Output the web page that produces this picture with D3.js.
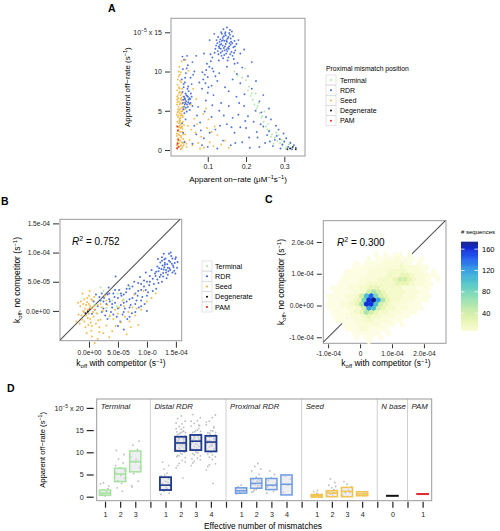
<!DOCTYPE html>
<html><head><meta charset="utf-8">
<script src="https://cdn.jsdelivr.net/npm/d3@7/dist/d3.min.js"></script>
<style>
body{margin:0;background:#fff;}
svg{font-family:"Liberation Sans",Arial,Helvetica,sans-serif;}
</style></head>
<body><svg id="fig" width="500" height="531"></svg>
<script>
// ================= DATA =================
const categories = ["Terminal","RDR","Seed","Degenerate","PAM"];
const categoryColors = ["#a9e3a1","#3a62d6","#f3b43a","#111111","#e3262b"];

// Panel A: x = apparent on-rate (uM^-1 s^-1), y = apparent off-rate (1e-5 s^-1); flat x,y pairs
const aTerminal = [0.170,10.0,0.178,9.5,0.190,9.2,0.200,8.9,0.205,7.6,0.212,6.9,0.218,6.4,0.222,5.8,0.228,5.3,0.236,4.7,0.240,4.1,0.246,3.6,0.252,3.0,0.262,2.5,0.268,2.0,0.275,1.6,0.282,1.2,0.289,0.9,0.295,0.6,0.300,1.0,0.307,0.4,0.312,0.7,0.318,0.3,0.225,7.2,0.233,6.0,0.248,4.9,0.256,2.6,0.272,0.8,0.285,1.9,0.198,10.4,
 0.208,8.1,0.215,7.2,0.230,5.6,0.243,4.3,0.258,3.3,0.265,1.7,0.279,2.2,0.293,1.3,0.303,0.2,0.314,1.0];
const aSeed = [0.020,0.3,0.022,0.8,0.025,1.2,0.028,0.5,0.031,1.6,0.019,2.1,0.024,2.6,0.027,3.1,0.033,2.3,0.021,3.6,0.026,4.0,0.030,4.4,0.023,4.9,0.029,5.3,0.034,5.0,0.020,5.8,0.025,6.2,0.031,6.6,0.022,7.0,0.027,7.4,0.033,7.8,0.021,8.3,0.028,8.8,0.024,9.4,0.030,9.9,0.026,10.6,0.032,11.3,0.023,1.5,0.029,2.8,0.035,3.6,0.019,4.5,0.024,5.5,0.028,6.0,0.032,0.2,0.035,0.9,0.021,1.0,0.026,1.9,0.030,3.3,0.022,4.2,0.027,4.7,0.033,5.9,0.020,6.8,0.025,7.3,0.029,0.1,0.023,0.5,0.036,1.4,0.034,2.7,0.028,3.8,0.031,4.9,0.024,3.4,0.019,1.8,0.026,5.1,0.032,6.3,0.022,2.4,0.029,7.0,0.035,4.2,0.037,0.6,0.040,1.1,0.021,6.1,0.025,8.0,0.031,8.6,
 0.019,0.6,0.021,1.4,0.023,2.0,0.025,2.9,0.027,3.5,0.029,4.1,0.031,4.6,0.033,5.4,0.020,6.4,0.022,5.2,0.024,4.4,0.026,3.7,0.028,2.3,0.030,1.8,0.032,1.0,0.034,0.4,0.036,2.0,0.019,3.0,0.021,4.8,0.023,6.6,0.025,0.9,0.027,5.8,0.029,6.5,0.031,7.2,0.033,3.0,0.035,5.5,0.020,7.6,0.022,9.0,0.024,10.0,0.026,7.8,0.028,1.2,0.030,0.6,0.032,2.9,0.034,4.4,0.036,6.8,0.038,3.2,0.041,2.0,0.044,0.8,0.039,6.1,0.027,9.6,
 0.045,0.4,0.052,1.3,0.060,0.6,0.068,2.2,0.075,0.9,0.083,1.7,0.090,0.3,0.098,2.8,0.105,1.0,0.115,0.5,0.125,1.9,0.135,0.7,0.048,3.1,0.057,2.6,0.065,4.0,0.072,3.3,0.088,4.6,0.102,3.9,0.118,3.0,0.145,1.2,0.155,0.3,0.040,5.2,0.055,5.8,0.070,6.5,0.050,10.1,0.042,11.5,0.062,7.8,0.095,5.3,0.080,0.2,0.110,2.3];
const aRDR = [0.130,13.0,0.135,13.5,0.140,14.0,0.145,13.2,0.150,13.8,0.155,12.9,0.160,13.4,0.138,12.6,0.142,14.5,0.148,12.3,0.152,14.2,0.158,14.7,0.133,14.1,0.128,12.2,0.162,12.5,0.167,13.1,0.170,13.9,0.125,13.6,0.120,12.9,0.146,15.0,0.141,15.4,0.136,12.0,0.154,11.8,0.157,13.6,0.144,13.9,0.139,13.3,0.149,12.8,0.153,13.0,0.131,13.8,0.127,14.4,0.160,14.2,0.165,12.0,0.172,12.7,0.175,13.5,0.147,14.6,0.143,12.1,0.137,14.8,0.118,12.4,0.122,13.3,0.134,12.4,0.156,14.9,0.150,15.6,0.163,15.1,0.168,11.6,0.129,11.4,0.180,14.0,0.185,12.3,0.178,11.1,0.195,12.8,0.112,11.8,
 0.132,13.4,0.137,13.9,0.142,13.0,0.147,13.5,0.151,12.6,0.156,13.2,0.161,13.8,0.139,14.3,0.144,12.7,0.149,14.0,0.154,14.4,0.159,12.2,0.134,12.9,0.129,13.2,0.164,13.6,0.169,12.4,0.126,12.6,0.145,14.8,0.140,11.7,0.158,15.3,0.135,15.0,0.152,11.4,0.166,14.5,0.123,14.0,0.171,13.2,
 0.088,9.0,0.092,9.6,0.096,10.2,0.100,9.3,0.104,10.6,0.098,11.0,0.108,11.3,0.112,10.4,0.094,8.5,0.086,9.9,0.102,8.0,0.115,10.0,0.085,7.8,0.078,8.6,0.107,12.2,0.090,12.3,0.100,7.3,0.120,9.4,0.117,14.8,0.105,14.0,
 0.036,5.2,0.040,5.8,0.044,6.2,0.048,5.5,0.052,6.6,0.038,6.8,0.042,7.2,0.046,6.9,0.050,7.5,0.055,6.0,0.039,4.7,0.045,4.9,0.053,5.1,0.058,6.8,0.041,6.4,0.047,7.8,0.035,6.0,0.049,6.1,0.043,5.4,0.056,7.2,0.060,5.6,0.037,8.0,
 0.038,5.5,0.042,6.0,0.046,5.8,0.050,6.4,0.044,7.0,0.040,6.6,0.048,6.8,0.052,5.9,0.036,6.4,0.054,6.5,
 0.032,9.0,0.035,10.3,0.038,11.5,0.040,8.6,0.043,9.8,0.046,12.0,0.034,11.9,0.048,10.8,0.055,9.2,0.060,11.2,0.065,10.0,0.070,12.0,0.033,3.4,0.036,2.2,0.039,1.0,0.042,3.9,
 0.034,7.4,0.037,8.4,0.041,9.2,0.045,10.4,0.049,8.1,0.058,8.4,0.062,9.6,
 0.060,0.8,0.070,2.0,0.080,3.5,0.090,1.5,0.100,0.4,0.110,4.2,0.120,2.6,0.130,5.0,0.140,1.2,0.150,3.3,0.160,0.6,0.170,2.2,0.180,4.5,0.190,1.0,0.200,2.8,0.210,0.3,0.220,3.6,0.230,1.6,0.240,4.8,0.250,0.9,0.260,2.4,0.270,0.5,0.280,1.8,0.290,0.2,0.300,1.1,0.310,0.4,0.320,0.1,0.330,0.3,0.075,5.5,0.095,6.3,0.115,7.0,0.135,6.0,0.155,7.5,0.175,6.8,0.195,5.6,0.215,7.8,0.235,6.2,0.205,9.4,0.185,8.5,0.165,9.0,0.145,8.0,0.125,8.8,0.225,5.0,0.245,3.0,0.265,3.9,0.285,2.6,0.255,1.9,0.275,1.3,0.215,11.2,0.190,10.5,0.165,4.1,0.105,2.2,0.085,0.6,0.065,3.1,0.125,0.2,0.295,0.7,0.305,1.5,0.235,0.4,0.185,2.9,0.155,5.6,0.245,7.0,0.260,5.3,0.205,4.3,
 0.072,4.4,0.082,2.5,0.092,4.9,0.112,5.7,0.132,3.1,0.142,4.4,0.162,2.9,0.172,0.9,0.182,6.0,0.198,3.7,0.208,1.6,0.228,2.3,0.238,3.3,0.252,4.2,0.262,1.1,0.278,3.1,0.288,1.4,0.298,2.1,0.316,0.9,0.325,0.6,0.110,8.2,0.130,9.8,0.150,10.6,0.170,11.0,0.176,9.7,0.226,8.8,0.196,7.1];
const aDegenerate = [0.315,0.2,0.322,0.4,0.308,0.1,0.330,0.1];
const aPAM = [0.020,0.2,0.021,0.8,0.022,2.5,0.023,1.3,0.024,0.4,0.021,3.0];
const aXTicks = [0.1,0.2,0.3];
const aYTicks = [0,5,10,15];

// Panel B: x = koff with competitor, y = koff no competitor (1e-5 s^-1)
const bTerminal = [1.0,1.0,2.0,2.0,3.0,0.5,4.0,1.8,5.0,3.0,6.0,2.0,1.5,-0.5,2.5,3.4,3.5,-1.0,4.8,0.8,0.2,0.6,7.0,4.2,2.0,4.0];
const bRDR = [13.0,7.5,13.5,8.0,14.0,7.0,12.5,7.2,13.8,8.6,14.5,7.8,12.8,6.5,13.2,9.0,14.2,9.4,12.0,6.8,11.8,7.6,14.8,8.2,13.6,6.2,12.3,8.3,13.9,7.3,14.4,6.6,13.1,8.2,12.7,7.8,15.0,9.2,14.7,6.9,11.5,6.0,12.2,5.8,13.4,5.6,15.2,7.4,12.9,9.8,14.1,10.0,11.9,8.9,13.7,6.8,14.9,8.9,12.4,6.2,13.3,7.0,12.6,9.2,
 13.1,7.9,13.6,7.4,14.3,8.1,12.9,7.1,14.0,8.4,13.3,6.6,12.6,8.6,14.6,7.5,13.8,9.8,12.1,7.3,14.4,9.0,13.0,8.8,15.3,8.4,11.6,6.7,12.8,5.9,14.9,6.4,
 10.5,6.0,10.0,5.0,9.5,4.2,11.0,5.5,11.2,4.6,9.0,3.6,8.5,4.8,8.0,3.0,7.5,2.2,7.0,3.8,6.5,1.6,6.0,2.8,5.5,1.0,5.0,2.2,4.5,1.4,4.0,0.6,3.5,2.0,3.0,1.2,2.5,0.4,2.0,1.8,1.5,0.8,1.0,0.2,6.2,0.4,7.2,1.0,8.2,1.8,9.2,2.4,10.2,3.2,5.2,3.6,4.2,3.0,3.2,2.8,6.8,4.4,7.8,5.0,8.8,5.8,9.8,6.6,10.8,7.0,5.8,-0.6,6.6,-1.4,7.4,-0.4,4.8,-1.0,3.8,-0.2,2.8,-0.8,8.6,0.6,9.6,1.2,11.6,3.8,12.0,4.8,4.6,5.9,2.2,3.0,1.8,2.4,0.8,1.6,7.0,2.0,5.6,2.6,6.4,3.2,4.4,2.4,3.6,1.6,8.4,2.6,9.0,4.6,10.4,4.4,11.4,6.4,5.0,-2.6,6.0,-3.2,0.5,-0.5,1.2,2.8,2.6,2.2,3.4,4.0,
 3.0,0.0,4.0,1.2,5.0,0.4,6.0,1.4,7.0,0.6,8.0,1.2,9.0,1.8,10.0,2.6,11.0,3.4,5.5,3.0,6.5,3.8,7.5,4.2,8.5,3.4,9.5,5.2,10.5,5.0,4.5,3.6,3.5,3.0,2.5,1.6,6.0,-0.2,7.0,-1.0,8.0,-0.2,9.0,0.8,10.0,0.0,5.4,-1.8,4.2,-0.6,3.2,-1.4,2.2,-0.2,11.8,5.4,12.6,5.0,9.8,3.6];
const bSeed = [-1.0,0.0,-0.5,1.0,0.0,-0.5,0.5,0.5,-1.2,-1.5,-0.8,2.0,0.3,-2.0,-0.3,1.5,0.8,-1.0,-1.5,0.8,0.0,2.6,-0.6,-2.8,0.6,1.8,-1.8,-0.6,1.0,0.2,-0.2,-1.2,0.4,-3.4,-1.1,3.0,0.2,0.9,-0.9,-0.2,1.2,-2.2,-1.4,1.6,0.7,-0.2,-0.4,-3.8,0.1,3.4,-0.7,0.4,1.5,1.0,-1.6,-2.2,0.9,2.4,-0.1,-2.4,
 -0.5,-0.8,0.2,-1.4,-1.0,1.2,0.8,0.8,-0.3,2.2,0.5,-2.6,-1.3,-0.8,1.3,-0.4,0.0,1.2,-0.8,-1.8,0.4,2.0,-0.2,0.2,1.6,-1.6,2.4,0.0,3.6,-0.8,4.6,-2.6,5.2,0.6,6.2,-1.0,7.2,-2.8,8.2,0.4,3.0,1.8,2.0,1.2,-1.9,1.4,-2.2,-1.8,1.8,-3.6,
 2.0,-1.5,3.0,-2.5,4.0,-3.5,5.0,-0.5,6.0,0.8,7.0,-1.8,8.0,-0.8,9.0,0.2,10.0,1.6,3.5,-4.5,2.5,-3.8,1.5,-4.8,4.5,0.2,5.5,-2.0,6.5,-4.0,7.5,0.6,8.5,-2.4,3.2,1.0,2.2,0.6,1.8,-2.8,5.8,1.8,7.8,2.8,9.4,3.4,10.8,2.2,11.5,3.0,2.8,2.6,4.2,-1.4,6.8,-0.2,1.0,-5.5,0.5,-4.4];
const bDegenerate = [-0.6,-0.4,-0.2,-0.1];
const bPAM = [0.1,0.3];
const bTicks = [0,5,10,15];
const bXTickLabels = ["0.0e+00","5.0e-05","1.0e-0","1.5e-04"];
const bYTickLabels = ["0.0e+00","5.0e-05","1.0e-04","1.5e-04"];
const bR2 = "0.752";

// Panel C: hexbin counts (1e-4 s^-1 units); rows top->bottom, '.' empty, chars = count level
const cR2 = "0.300";
const cTicks = [-1,0,1,2];
const cXTickLabels = ["-1.0e-04","0","1.0e-04","2.0e-04"];
const cYTickLabels = ["-1.0e-04","0.0e+00","1.0e-04","2.0e-04"];
const cHexX0 = -1.0, cHexDX = 0.15, cHexY0 = 1.60, cHexDY = 0.13;
const cHexRows = [
 "..........1.1.11.1......",
 "........1.11112111.1....",
 "......1.1111222211.1....",
 ".....1111122222322211...",
 "....11111222233332221 1.",
 "...11111222233344322211.",
 "...1111222233345543221.1",
 "..11112233333344432211..",
 ".111122334433333222111..",
 ".11112235654333322211...",
 "111122358A754333222111..",
 "11112347BC96433222111...",
 "11122346BB8543222111....",
 "11112235985433222111....",
 ".111123465433222111.....",
 ".1111223433222111.......",
 "..11112233222111........",
 "...11122222111.1........",
 "....111221111...........",
 ".....111111.1...........",
 "......1.11.1............",
 "........1..............."
];
const cLevelCounts = {"1":3,"2":7,"3":13,"4":24,"5":40,"6":58,"7":80,"8":100,"9":120,"A":140,"B":158,"C":172};
const cBarTicks = [40,80,120,160];

// Panel D: off-rate (1e-5 s^-1) by facet and number of mismatches
const dFacets = ["Terminal","Distal RDR","Proximal RDR","Seed","N base","PAM"];
const dFacetColors = ["#a3e39c","#1f3b8e","#6d9de2","#f2c44e","#111111","#e02a2a"];
const dLevels = [["1","2","3"],["1","2","3","4"],["1","2","3","4"],["1","2","3","4"],["0"],["1"]];
const dQ1 = [[0.3,3.4,5.6],[1.5,10.3,10.5,10.2],[0.8,1.9,1.6,0.4],[-0.1,0.0,0.0,0.2],[0.2],[0.6]];
const dMedian = [[0.8,5.1,7.9],[2.6,12.1,12.5,12.3],[1.35,3.0,2.6,2.8],[0.2,0.8,1.2,0.6],[0.2],[0.6]];
const dQ3 = [[1.5,6.4,10.3],[4.4,13.5,13.9,13.7],[2.0,4.1,4.1,4.9],[0.5,1.35,2.1,1.1],[0.2],[0.6]];
// jittered points: flat [offset, value] pairs
const dPoints = [
 [[-0.2,0.5,0.1,1.2,0.25,2.4,-0.3,2.9,0.0,0.2,0.2,1.8,-0.1,3.1,0.3,0.7],
  [-0.2,2.0,0.1,3.0,0.3,4.2,-0.3,5.5,0.0,6.5,0.2,7.6,-0.1,8.5,0.25,9.5,-0.25,10.4,0.05,4.8,-0.15,3.6,0.3,5.9,0.15,1.2,-0.3,7.0],
  [-0.2,2.2,0.2,3.5,-0.1,5.2,0.3,6.6,0.0,7.8,-0.3,9.0,0.15,10.6,-0.15,11.6,0.25,12.5,0.05,8.4,-0.25,2.5]],
 [[-0.3,0.5,-0.1,1.2,0.1,1.8,0.3,2.4,-0.2,3.0,0.0,3.5,0.2,4.0,-0.3,4.6,0.1,5.3,-0.1,6.2,0.2,7.0,-0.2,7.8,0.3,2.8,0.05,2.1,-0.15,1.4,0.15,3.2,0.25,0.8,-0.05,4.9],
  [-0.3,6.5,-0.1,7.5,0.1,8.2,0.3,8.8,-0.2,9.3,0.0,9.8,0.2,10.2,-0.3,10.6,-0.1,11.0,0.1,11.3,0.3,11.6,-0.2,11.9,0.0,12.2,0.2,12.5,-0.3,12.8,-0.1,13.1,0.1,13.4,0.3,13.7,-0.2,14.0,0.0,14.4,0.2,14.8,-0.3,15.3,-0.1,15.8,0.1,16.4,0.3,17.0,-0.2,17.6,0.05,18.2,-0.25,9.0,0.25,10.0,-0.05,10.8,0.15,11.8,-0.15,12.6,0.25,13.2,-0.25,14.6,0.05,15.2,0.15,4.2,
   -0.32,11.4,-0.22,12.4,-0.12,12.9,-0.02,11.6,0.08,12.0,0.18,13.0,0.28,12.3,-0.28,13.6,-0.18,10.4,-0.08,14.2,0.02,13.6,0.12,14.6,0.22,11.0,0.32,14.4,-0.3,16.6,0.1,9.6,-0.1,9.2,0.2,15.6,-0.2,7.0,0.3,7.8],
  [-0.3,7.0,-0.1,8.0,0.1,8.7,0.3,9.2,-0.2,9.7,0.0,10.1,0.2,10.5,-0.3,10.9,-0.1,11.3,0.1,11.7,0.3,12.0,-0.2,12.3,0.0,12.6,0.2,12.9,-0.3,13.2,-0.1,13.5,0.1,13.8,0.3,14.1,-0.2,14.5,0.0,14.9,0.2,15.4,-0.3,15.9,-0.1,16.5,0.1,17.1,0.3,17.8,-0.2,18.5,0.05,11.0,-0.25,12.1,0.25,12.7,-0.05,13.3,0.15,10.0,-0.15,14.0,0.25,16.0,-0.25,8.5,
   -0.32,11.8,-0.22,12.8,-0.12,13.0,-0.02,11.9,0.08,12.4,0.18,13.4,0.28,12.6,-0.28,14.0,-0.18,10.7,-0.08,14.6,0.02,13.9,0.12,15.0,0.22,11.3,0.32,14.7,-0.3,17.0,0.1,9.9,-0.1,9.4,0.2,16.1,-0.2,7.6,0.3,8.3],
  [-0.3,6.0,-0.1,7.2,0.1,8.4,0.3,9.0,-0.2,9.6,0.0,10.0,0.2,10.4,-0.3,10.8,-0.1,11.2,0.1,11.6,0.3,11.9,-0.2,12.2,0.0,12.5,0.2,12.8,-0.3,13.1,-0.1,13.4,0.1,13.7,0.3,14.0,-0.2,14.4,0.0,14.9,0.2,15.5,-0.3,16.2,-0.1,17.0,0.1,17.8,0.3,18.4,0.05,11.4,-0.25,12.0,0.25,13.0,-0.05,13.9,0.15,3.0,
   -0.32,11.5,-0.22,12.6,-0.12,12.7,-0.02,11.7,0.08,12.1,0.18,13.2,0.28,12.4,-0.28,13.8,-0.18,10.2,-0.08,14.3,0.02,13.5,0.12,14.8,0.22,10.9,0.32,14.5,-0.3,16.8,0.1,9.4,-0.1,8.9,0.2,15.8,-0.2,6.8,0.3,7.4]],
 [[-0.3,0.6,-0.1,1.0,0.1,1.4,0.3,1.8,-0.2,2.2,0.0,2.6,0.2,1.2,-0.05,0.8,0.15,2.0],
  [-0.3,1.0,-0.1,1.8,0.1,2.5,0.3,3.2,-0.2,3.8,0.0,4.4,0.2,5.0,-0.3,5.8,-0.1,6.8,0.1,7.5,0.25,2.0,-0.25,2.9,0.05,3.5,0.15,4.1,-0.15,1.4,0.3,6.2,-0.2,1.2,0.1,2.2,0.2,3.6,-0.1,2.7,0.0,1.6,0.3,2.5],
  [-0.3,0.8,-0.1,1.6,0.1,2.4,0.3,3.0,-0.2,3.6,0.0,4.3,0.2,5.0,-0.1,5.8,0.15,1.2,-0.25,2.2],
  [-0.2,1.0,0.1,2.6,0.25,4.0,-0.1,4.6]],
 [[-0.3,0.1,-0.1,0.3,0.1,0.5,0.3,0.2,0.0,0.8,-0.2,1.1,0.2,0.4,0.05,1.4],
  [-0.3,0.2,-0.1,0.6,0.1,1.0,0.3,1.4,0.0,2.0,-0.2,2.6,0.2,3.2,-0.1,4.0,0.15,1.6,-0.25,1.2,0.05,0.4,0.25,2.3],
  [-0.3,0.3,-0.1,0.9,0.1,1.5,0.3,2.2,0.0,2.8,-0.2,3.4,0.2,1.0],
  [-0.2,0.4,0.1,0.9,0.25,0.6]],
 [[0,0.2]],
 [[0,0.6]]
];
const dYTicks = [0,5,10,15,20];

// ================= DRAWING =================
const svg = d3.select("#fig");
const pairs = a => { const r = []; for (let i = 0; i < a.length; i += 2) r.push([a[i], a[i+1]]); return r; };
const TICKFS = 7;

function styleAxis(g, fs) {
  g.select(".domain").remove();
  g.selectAll(".tick line").attr("stroke", "#333");
  g.selectAll(".tick text").attr("font-size", fs || TICKFS).attr("fill", "#222");
  g.attr("font-family", null).attr("font-size", null);
}
function rich(t, parts, fs) {
  let shift = 0;
  parts.forEach(p => {
    const target = p.sup ? -fs * 0.38 : (p.sub ? fs * 0.25 : 0);
    const ts = t.append("tspan").attr("dy", target - shift).text(p.t);
    if (p.sup || p.sub) ts.attr("font-size", fs * 0.7);
    if (p.it) ts.attr("font-style", "italic");
    shift = target;
  });
}
function expTick(g, value, rest) {
  g.selectAll(".tick text").filter(d => d === value).each(function() {
    const t = d3.select(this); t.text(null);
    t.append("tspan").text("10");
    t.append("tspan").attr("font-size", 5).attr("dy", -3).text("−5");
    t.append("tspan").attr("dy", 3).text(" x " + rest);
  });
}
function frame(x0, y0, x1, y1) {
  svg.append("rect").attr("x", x0).attr("y", y0).attr("width", x1 - x0).attr("height", y1 - y0)
    .attr("fill", "none").attr("stroke", "#9a9a9a").attr("stroke-width", 1);
}
function panelLabel(t, x, y) {
  svg.append("text").attr("x", x).attr("y", y).attr("font-size", 10.5).attr("font-weight", "bold").text(t);
}

// ---------- Panel A ----------
{
  const L = 171, R = 305, T = 18.3, B = 156;
  const x = d3.scaleLinear([0.004, 0.354], [L, R]);
  const y = d3.scaleLinear([-0.76, 16.78], [B, T]);
  panelLabel("A", 108, 12);
  frame(L, T, R, B);
  const sets = [aTerminal, aRDR, aSeed, aDegenerate, aPAM];
  const order = [0, 2, 1, 3, 4];
  order.forEach(k => {
    svg.append("g").selectAll("circle").data(pairs(sets[k])).join("circle")
      .attr("cx", d => x(d[0])).attr("cy", d => y(d[1])).attr("r", 0.95)
      .attr("fill", categoryColors[k]).attr("fill-opacity", 0.9);
  });
  const gy = svg.append("g").attr("transform", `translate(${L - 1},0)`)
    .call(d3.axisLeft(y).tickValues(aYTicks).tickSize(5).tickPadding(3).tickFormat(d => d));
  styleAxis(gy); expTick(gy, 15, "15");
  const gx = svg.append("g").attr("transform", `translate(0,${B + 1})`)
    .call(d3.axisBottom(x).tickValues(aXTicks).tickSize(5).tickPadding(2).tickFormat(d3.format(".1f")));
  styleAxis(gx);
  const xt = svg.append("text").attr("x", (L + R) / 2).attr("y", 182).attr("text-anchor", "middle").attr("font-size", 8);
  rich(xt, [{t:"Apparent on−rate ("},{t:"μ"},{t:"M"},{t:"−1",sup:true},{t:"s"},{t:"−1",sup:true},{t:")"}], 8);
  const yt = svg.append("text").attr("transform", `translate(130,${(T + B) / 2}) rotate(-90)`).attr("text-anchor", "middle").attr("font-size", 8);
  rich(yt, [{t:"Apparent off−rate (s"},{t:"−1",sup:true},{t:")"}], 8);
  // legend
  const lg = svg.append("g").attr("transform", "translate(326,69)");
  lg.append("text").attr("x", 0).attr("y", 2).attr("font-size", 6.8).text("Proximal mismatch position");
  categories.forEach((c, i) => {
    const yy = 11 + i * 10.2;
    lg.append("rect").attr("x", 0).attr("y", yy - 5).attr("width", 10).attr("height", 10).attr("fill", "#fff").attr("stroke", "#d0d0d0").attr("stroke-width", 0.6);
    lg.append("circle").attr("cx", 5).attr("cy", yy).attr("r", 1).attr("fill", categoryColors[i]);
    lg.append("text").attr("x", 14).attr("y", yy + 2.5).attr("font-size", 7).text(c);
  });
}

// ---------- Panel B ----------
{
  const L = 60, R = 181.7, T = 219.3, B = 340.7;
  const x = d3.scaleLinear([-5, 16], [L, R]);
  const y = d3.scaleLinear([-5.1, 15.7], [B, T]);
  panelLabel("B", 1, 205);
  frame(L, T, R, B);
  const lo = -5, hi = 15.7;
  svg.append("line").attr("x1", x(lo)).attr("y1", y(lo)).attr("x2", x(hi)).attr("y2", y(hi))
    .attr("stroke", "#555").attr("stroke-width", 1.1);
  const sets = [bTerminal, bRDR, bSeed, bDegenerate, bPAM];
  [0, 1, 2, 3, 4].forEach(k => {
    svg.append("g").selectAll("circle").data(pairs(sets[k])).join("circle")
      .attr("cx", d => x(d[0])).attr("cy", d => y(d[1])).attr("r", 1)
      .attr("fill", categoryColors[k]).attr("fill-opacity", 0.9);
  });
  const gy = svg.append("g").attr("transform", `translate(${L - 1},0)`)
    .call(d3.axisLeft(y).tickValues(bTicks).tickSize(6).tickPadding(3).tickFormat((d, i) => bYTickLabels[i]));
  styleAxis(gy, 6.6);
  const gx = svg.append("g").attr("transform", `translate(0,${B + 1})`)
    .call(d3.axisBottom(x).tickValues(bTicks).tickSize(6).tickPadding(3).tickFormat((d, i) => bXTickLabels[i]));
  styleAxis(gx, 6.6);
  const r2 = svg.append("text").attr("x", 72).attr("y", 245).attr("font-size", 10);
  rich(r2, [{t:"R",it:true},{t:"2",sup:true},{t:" = " + bR2}], 10);
  const xt = svg.append("text").attr("x", 121).attr("y", 366).attr("text-anchor", "middle").attr("font-size", 8.5);
  rich(xt, [{t:"k"},{t:"off",sub:true},{t:" with competitor  (s"},{t:"−1",sup:true},{t:")"}], 8.5);
  const yt = svg.append("text").attr("transform", `translate(20,${(T + B) / 2}) rotate(-90)`).attr("text-anchor", "middle").attr("font-size", 8.5);
  rich(yt, [{t:"k"},{t:"off",sub:true},{t:", no competitor  (s"},{t:"−1",sup:true},{t:")"}], 8.5);
  const lg = svg.append("g").attr("transform", "translate(202,266)");
  categories.forEach((c, i) => {
    const yy = i * 10.25;
    lg.append("rect").attr("x", 0).attr("y", yy - 5).attr("width", 10).attr("height", 10).attr("fill", "#fff").attr("stroke", "#d0d0d0").attr("stroke-width", 0.6);
    lg.append("circle").attr("cx", 5).attr("cy", yy).attr("r", 1.1).attr("fill", categoryColors[i]);
    lg.append("text").attr("x", 13).attr("y", yy + 2.5).attr("font-size", 7.2).text(c);
  });
}

// ---------- Panel C ----------
{
  const L = 323.3, R = 446, T = 220.7, B = 343.3;
  const x = d3.scaleLinear([-1.15, 2.69], [L, R]);
  const y = d3.scaleLinear([-1.19, 2.67], [B, T]);
  panelLabel("C", 265, 203);
  const color = d3.scaleLinear()
    .domain([1, 10, 25, 45, 70, 95, 120, 145, 162, 176])
    .range(["#fdfde8","#f7fbcf","#eaf5b4","#c8eca6","#8fdfb4","#52c8c6","#35a0e2","#1d55ee","#0c26d6","#0b1470"])
    .clamp(true);
  frame(L, T, R, B);
  const lo = -1.15, hi = 2.67;
  svg.append("line").attr("x1", x(lo)).attr("y1", y(lo)).attr("x2", x(hi)).attr("y2", y(hi))
    .attr("stroke", "#555").attr("stroke-width", 1.1);
  const cells = [];
  cHexRows.forEach((row, j) => {
    row.split("").forEach((ch, i) => {
      if (cLevelCounts[ch] !== undefined)
        cells.push({vx: cHexX0 + cHexDX * (i + (j % 2) * 0.5), vy: cHexY0 - cHexDY * j, n: cLevelCounts[ch]});
    });
  });
  const w = Math.abs(x(cHexDX) - x(0));
  const r = w / Math.sqrt(3) + 0.15;
  const hx = r * Math.sqrt(3) / 2;
  const hexD = `M0,${-r}L${hx},${-r/2}L${hx},${r/2}L0,${r}L${-hx},${r/2}L${-hx},${-r/2}Z`;
  svg.append("g").selectAll("path").data(cells).join("path")
    .attr("d", hexD).attr("transform", d => `translate(${x(d.vx)},${y(d.vy)})`)
    .attr("fill", d => color(d.n));
  const gy = svg.append("g").attr("transform", `translate(${L - 1.5},0)`)
    .call(d3.axisLeft(y).tickValues(cTicks).tickSize(5).tickPadding(3).tickFormat((d, i) => cYTickLabels[i]));
  styleAxis(gy, 6.6);
  const gx = svg.append("g").attr("transform", `translate(0,${B + 1})`)
    .call(d3.axisBottom(x).tickValues(cTicks).tickSize(4).tickPadding(3).tickFormat((d, i) => cXTickLabels[i]));
  styleAxis(gx, 6.6);
  const r2 = svg.append("text").attr("x", 337).attr("y", 246).attr("font-size", 10);
  rich(r2, [{t:"R",it:true},{t:"2",sup:true},{t:" = " + cR2}], 10);
  const xt = svg.append("text").attr("x", 386).attr("y", 366).attr("text-anchor", "middle").attr("font-size", 8.5);
  rich(xt, [{t:"k"},{t:"off",sub:true},{t:" with competitor  (s"},{t:"−1",sup:true},{t:")"}], 8.5);
  const yt = svg.append("text").attr("transform", `translate(284,${(T + B) / 2}) rotate(-90)`).attr("text-anchor", "middle").attr("font-size", 8.5);
  rich(yt, [{t:"k"},{t:"off",sub:true},{t:", no competitor  (s"},{t:"−1",sup:true},{t:")"}], 8.5);
  // colorbar
  const bx0 = 461, bx1 = 478;
  const by = d3.scaleLinear([7, 174], [330.7, 241.7]);
  const steps = d3.range(7, 174, 1);
  svg.append("g").selectAll("rect").data(steps).join("rect")
    .attr("x", bx0).attr("width", bx1 - bx0).attr("y", d => by(d + 1)).attr("height", d => by(d) - by(d + 1) + 0.4)
    .attr("fill", d => color(d + 0.5));
  svg.append("g").selectAll("line").data(cBarTicks).join("line")
    .attr("x1", bx1 - 3.5).attr("x2", bx1).attr("y1", d => by(d)).attr("y2", d => by(d))
    .attr("stroke", "#fff").attr("stroke-width", 0.8);
  svg.append("g").selectAll("line").data(cBarTicks).join("line")
    .attr("x1", bx0).attr("x2", bx0 + 3.5).attr("y1", d => by(d)).attr("y2", d => by(d))
    .attr("stroke", "#fff").attr("stroke-width", 0.8);
  svg.append("g").selectAll("text").data(cBarTicks).join("text")
    .attr("x", 482).attr("y", d => by(d) + 2.6).attr("font-size", 7.5).text(d => d);
  svg.append("text").attr("x", 461).attr("y", 234).attr("font-size", 6).text("# sequences");
}

// ---------- Panel D ----------
{
  const L = 96.7, R = 431.7, T = 399, B = 500.7;
  panelLabel("D", 7, 392);
  let s = 0; const seps = [], slots = [];
  dFacets.forEach((f, fi) => {
    if (fi > 0) { seps.push(s); s++; }
    slots.push(dLevels[fi].map(() => s++));
  });
  const x = d3.scaleLinear([-0.55, s - 1 + 0.6], [L, R]);
  const y = d3.scaleLinear([-0.9, 22], [B, T]);
  svg.append("g").selectAll("line").data(seps).join("line")
    .attr("x1", d => x(d)).attr("x2", d => x(d)).attr("y1", T).attr("y2", B)
    .attr("stroke", "#cfcfcf").attr("stroke-width", 1);
  dFacets.forEach((f, fi) => {
    dLevels[fi].forEach((lv, li) => {
      svg.append("g").selectAll("circle").data(pairs(dPoints[fi][li])).join("circle")
        .attr("cx", d => x(slots[fi][li] + d[0])).attr("cy", d => y(d[1])).attr("r", 0.9)
        .attr("fill", "#bdbdbd");
    });
  });
  const hw = 0.37;
  dFacets.forEach((f, fi) => {
    const col = dFacetColors[fi];
    dLevels[fi].forEach((lv, li) => {
      const c = slots[fi][li];
      const q1 = dQ1[fi][li], q3 = dQ3[fi][li], md = dMedian[fi][li];
      const flat = q1 === q3;
      if (!flat) {
        svg.append("rect").attr("x", x(c - hw)).attr("width", x(c + hw) - x(c - hw))
          .attr("y", y(q3)).attr("height", y(q1) - y(q3))
          .attr("fill", "#d6d8e2").attr("fill-opacity", 0.45)
          .attr("stroke", col).attr("stroke-width", fi === 1 ? 1.8 : 1.5);
      }
      svg.append("line").attr("x1", x(c - (flat ? 0.42 : hw))).attr("x2", x(c + (flat ? 0.42 : hw)))
        .attr("y1", y(md)).attr("y2", y(md)).attr("stroke", col).attr("stroke-width", flat ? 2 : 1.6);
    });
    svg.append("text").attr("x", x(fi === 0 ? -0.55 : seps[fi - 1]) + 4).attr("y", T + 10)
      .attr("font-size", 7.8).attr("font-style", "italic").attr("fill", "#222").text(f);
  });
  frame(L, T, R, B);
  const allSlots = slots.flat(), allLabels = dLevels.flat();
  const gx = svg.append("g").attr("transform", `translate(0,${B + 1})`)
    .call(d3.axisBottom(x).tickValues(allSlots.concat(seps)).tickSize(6).tickPadding(4)
      .tickFormat(d => { const k = allSlots.indexOf(d); return k >= 0 ? allLabels[k] : ""; }));
  styleAxis(gx, 7.2);
  gx.selectAll(".tick line").attr("stroke", "#222").attr("stroke-width", 1.2);
  const gy = svg.append("g").attr("transform", `translate(${L - 3},0)`)
    .call(d3.axisLeft(y).tickValues(dYTicks).tickSize(7).tickPadding(3).tickFormat(d => d));
  styleAxis(gy, 7.2);
  gy.selectAll(".tick line").attr("stroke", "#222").attr("stroke-width", 1.2);
  expTick(gy, 20, "20");
  const yt = svg.append("text").attr("transform", `translate(45,${(T + B) / 2}) rotate(-90)`).attr("text-anchor", "middle").attr("font-size", 7.6);
  rich(yt, [{t:"Apparent off−rate (s"},{t:"−1",sup:true},{t:")"}], 7.6);
  svg.append("text").attr("x", 263).attr("y", 529).attr("text-anchor", "middle").attr("font-size", 8.3).text("Effective number of mismatches");
}
</script>
</body></html>
